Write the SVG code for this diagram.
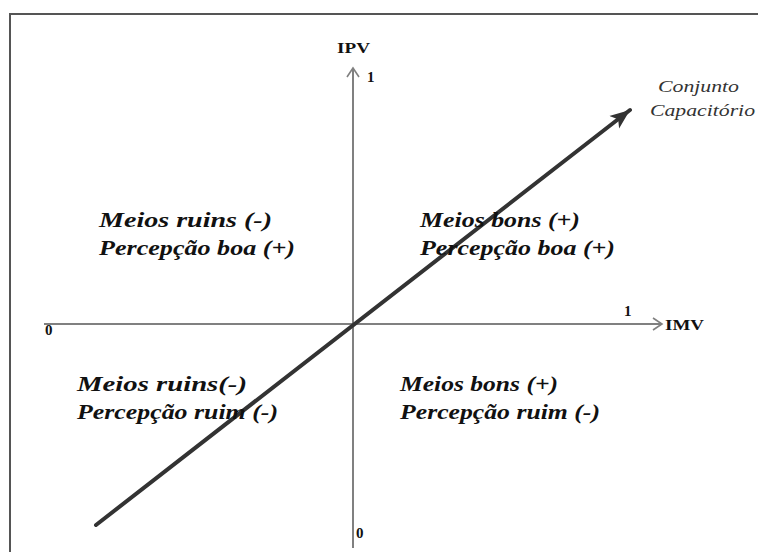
<svg xmlns="http://www.w3.org/2000/svg" width="758" height="552" viewBox="0 0 758 552">
<defs>
<style>
.q{font-family:"Liberation Serif","Times New Roman",serif;font-weight:bold;font-style:italic;font-size:22px;fill:#111}
.l{font-family:"Liberation Serif","Times New Roman",serif;font-weight:bold;font-size:15px;fill:#111}
.c{font-family:"Liberation Serif","Times New Roman",serif;font-style:italic;font-size:16px;fill:#333}
.ax{stroke:#808080;stroke-width:2;fill:none}
</style>
<marker id="open" markerWidth="14" markerHeight="14" refX="11" refY="7" orient="auto" markerUnits="userSpaceOnUse">
<path d="M2,1 L11,7 L2,13" fill="none" stroke="#808080" stroke-width="1.6"/>
</marker>
<marker id="fill" markerWidth="24" markerHeight="20" refX="20" refY="10" orient="auto" markerUnits="userSpaceOnUse">
<path d="M0,2 L20,10 L0,18 L5,10 Z" fill="#333"/>
</marker>
</defs>
<rect width="758" height="552" fill="#fff"/>
<path d="M10,552 L10,14 L758,14" fill="none" stroke="#555" stroke-width="2"/>
<g id="connectors">
<line class="ax" x1="353" y1="548" x2="353" y2="68" marker-end="url(#open)"/>
<line class="ax" x1="44" y1="324" x2="662" y2="324" marker-end="url(#open)"/>
<line x1="96" y1="525" x2="630" y2="110" stroke="#333" stroke-width="4" stroke-linecap="round" marker-end="url(#fill)"/>
</g>
<g id="labels">
<text class="l" x="337" y="53" textLength="33" lengthAdjust="spacingAndGlyphs">IPV</text>
<text class="l" x="367" y="82">1</text>
<text class="l" x="624" y="316">1</text>
<text class="l" x="665" y="330" textLength="39" lengthAdjust="spacingAndGlyphs">IMV</text>
<text class="l" x="45" y="335">0</text>
<text class="l" x="356" y="538">0</text>
<text class="c" x="658" y="92" textLength="81" lengthAdjust="spacingAndGlyphs">Conjunto</text>
<text class="c" x="650" y="116" textLength="105" lengthAdjust="spacingAndGlyphs">Capacitório</text>
</g>
<g id="q1"><text class="q" x="99" y="227" textLength="173" lengthAdjust="spacingAndGlyphs">Meios ruins (-)</text><text class="q" x="99" y="255" textLength="196" lengthAdjust="spacingAndGlyphs">Percepção boa (+)</text></g>
<g id="q2"><text class="q" x="420" y="227" textLength="160" lengthAdjust="spacingAndGlyphs">Meios bons (+)</text><text class="q" x="420" y="255" textLength="195" lengthAdjust="spacingAndGlyphs">Percepção boa (+)</text></g>
<g id="q3"><text class="q" x="77" y="391" textLength="170" lengthAdjust="spacingAndGlyphs">Meios ruins(-)</text><text class="q" x="77" y="419" textLength="201" lengthAdjust="spacingAndGlyphs">Percepção ruim (-)</text></g>
<g id="q4"><text class="q" x="400" y="391" textLength="158" lengthAdjust="spacingAndGlyphs">Meios bons (+)</text><text class="q" x="400" y="419" textLength="200" lengthAdjust="spacingAndGlyphs">Percepção ruim (-)</text></g>
</svg>
